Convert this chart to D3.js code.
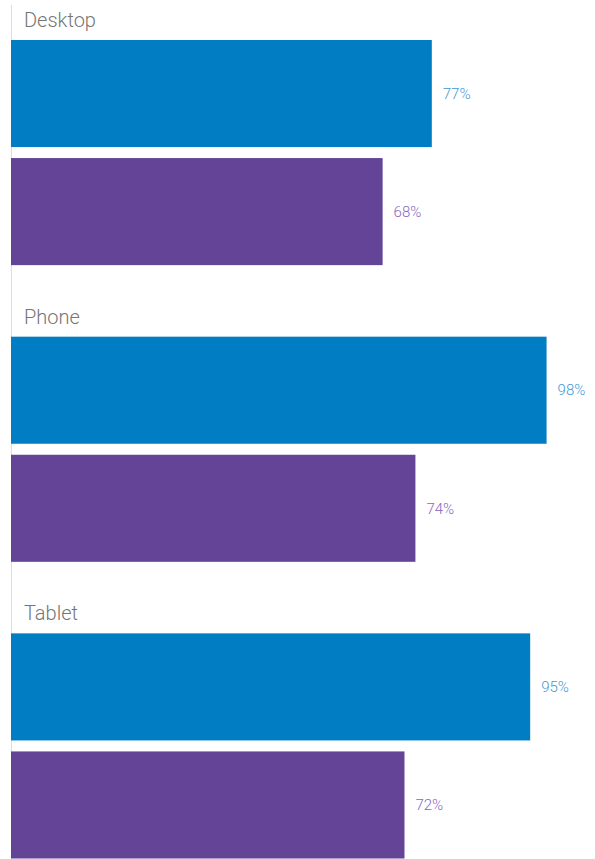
<!DOCTYPE html>
<html>
<head>
<meta charset="utf-8">
<script src="https://cdn.jsdelivr.net/npm/d3@7"></script>
<style>
  html, body { margin: 0; padding: 0; background: #fff; }
  svg { display: block; font-family: Roboto, "Noto Sans", sans-serif; }
</style>
</head>
<body>
<svg id="chart" width="595" height="859"></svg>
<script>
// Device categories and the two series shown for each
const categories = ["Desktop", "Phone", "Tablet"];
const seriesNames = ["first", "second"];
const firstValues = [77, 98, 95];
const secondValues = [68, 74, 72];
const seriesColors = ["#007dc3", "#634497"];
const labelColors = ["#3f98d5", "#8667c2"];

const rows = categories.map((c, i) => ({
  category: c,
  values: [
    { series: seriesNames[0], value: firstValues[i] },
    { series: seriesNames[1], value: secondValues[i] }
  ]
}));

const svg = d3.select("#chart");

const x = d3.scaleLinear().domain([0, 100]).range([11, 557.5]);

// Each category block holds its two bars; titles sit above each block
const y = d3.scaleBand()
  .domain(categories)
  .range([40, 858.5])
  .paddingInner(71.5 / 296.5)
  .paddingOuter(0);

const yInner = d3.scaleBand()
  .domain(seriesNames)
  .range([0, y.bandwidth()])
  .paddingInner(11 / 118)
  .paddingOuter(0);

// Baseline axis line
svg.append("line")
  .attr("x1", 11.5).attr("x2", 11.5)
  .attr("y1", 5).attr("y2", 859)
  .attr("stroke", "#dedede")
  .attr("stroke-width", 1);

const groups = svg.selectAll("g.group")
  .data(rows)
  .join("g")
  .attr("class", "group")
  .attr("transform", d => `translate(0,${y(d.category)})`);

groups.append("text")
  .attr("x", 24)
  .attr("y", -13)
  .attr("fill", "#757575")
  .attr("font-size", 20)
  .attr("font-weight", 300)
  .text(d => d.category);

groups.selectAll("rect")
  .data(d => d.values)
  .join("rect")
  .attr("x", x(0))
  .attr("y", d => yInner(d.series))
  .attr("width", d => x(d.value) - x(0))
  .attr("height", yInner.bandwidth())
  .attr("fill", (d, i) => seriesColors[i]);

groups.selectAll("text.value")
  .data(d => d.values)
  .join("text")
  .attr("class", "value")
  .attr("x", d => x(d.value) + 11)
  .attr("y", d => yInner(d.series) + yInner.bandwidth() / 2)
  .attr("dy", "0.35em")
  .attr("fill", (d, i) => labelColors[i])
  .attr("font-size", 15)
  .attr("font-weight", 300)
  .text(d => d.value + "%");
</script>
</body>
</html>
